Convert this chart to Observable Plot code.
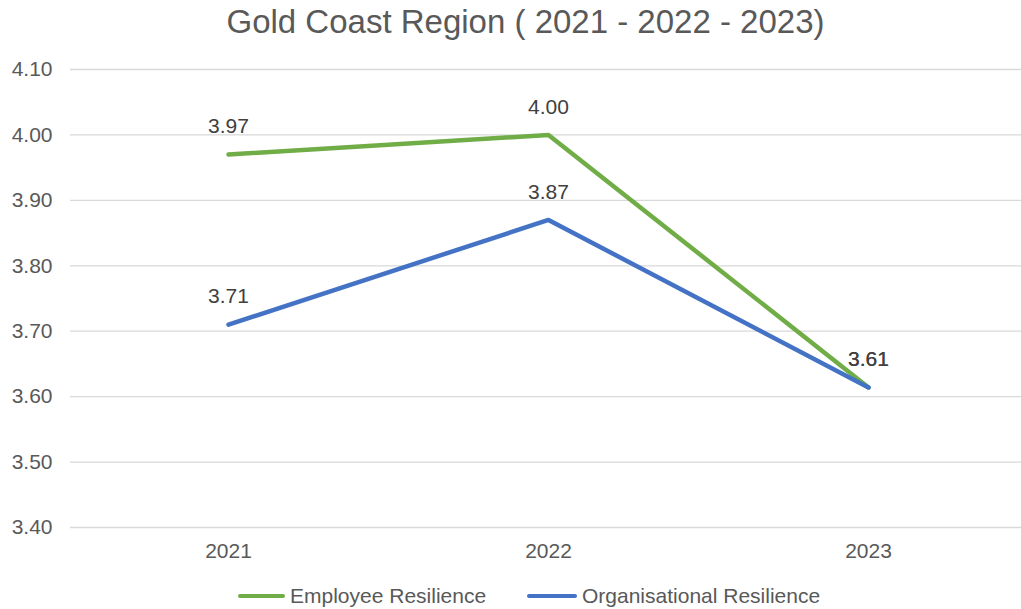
<!DOCTYPE html>
<html>
<head>
<meta charset="utf-8">
<script src="https://cdn.jsdelivr.net/npm/d3@7"></script>
<script src="https://cdn.jsdelivr.net/npm/@observablehq/plot@0.6"></script>
<style>
  html, body { margin: 0; padding: 0; background: #fff; }
  body { width: 1021px; height: 609px; overflow: hidden; font-family: "Liberation Sans", Arial, sans-serif; }
  #title { height: 44px; line-height: 44px; text-align: center; font-size: 33px; color: #595959; padding-left: 30px; }
  #chart svg { display: block; }
  #legend { position: relative; height: 45px; font-size: 21px; color: #595959; }
  .item { position: absolute; top: 20px; height: 24px; line-height: 24px; display: flex; align-items: center; }
  .sw { height: 4px; border-radius: 2px; margin-right: 5px; }
</style>
</head>
<body>
<div id="title"></div>
<div id="chart"></div>
<div id="legend"></div>
<script>
const titleText = "Gold Coast Region ( 2021 - 2022 - 2023)";
const years = ["2021", "2022", "2023"];
const seriesNames = ["Employee Resilience", "Organisational Resilience"];
const seriesColors = ["#70AD47", "#4472C4"];
const employeeValues = [3.97, 4.00, 3.614];
const organisationalValues = [3.71, 3.87, 3.614];
const yTicks = [3.4, 3.5, 3.6, 3.7, 3.8, 3.9, 4.0, 4.1];

document.getElementById("title").textContent = titleText;

const data = [];
years.forEach((yr, i) => data.push({year: yr, value: employeeValues[i], series: seriesNames[0]}));
years.forEach((yr, i) => data.push({year: yr, value: organisationalValues[i], series: seriesNames[1]}));

const fmt = d3.format(".2f");

const chart = Plot.plot({
  width: 1021,
  height: 520,
  marginTop: 25,
  marginBottom: 37,
  marginLeft: 70,
  marginRight: 0,
  style: {fontFamily: "'Liberation Sans', Arial, sans-serif", background: "#fff"},
  x: {type: "point", domain: years, range: [227, 868], padding: 0, label: null},
  y: {domain: [3.4, 4.1], label: null},
  color: {domain: seriesNames, range: seriesColors},
  marks: [
    Plot.ruleY(yTicks, {stroke: "#d9d9d9", strokeWidth: 1.3}),
    Plot.axisY({ticks: yTicks, tickSize: 0, tickPadding: 18, tickFormat: fmt, fontSize: 21, color: "#595959", label: null}),
    Plot.axisX({tickSize: 0, tickPadding: 16, fontSize: 21, color: "#595959", label: null}),
    Plot.line(data, {x: "year", y: "value", z: "series", stroke: "series", strokeWidth: 4.5, strokeLinecap: "round", strokeLinejoin: "round"}),
    Plot.text(data, {x: "year", y: "value", text: d => fmt(d.value), dy: -28, fontSize: 21, fill: "#404040"})
  ]
});
document.getElementById("chart").appendChild(chart);

const legend = document.getElementById("legend");
const legendPos = [[238, 47], [527, 50]];
seriesNames.forEach((name, i) => {
  const item = document.createElement("div");
  item.className = "item";
  item.style.left = legendPos[i][0] + "px";
  const sw = document.createElement("span");
  sw.className = "sw";
  sw.style.width = legendPos[i][1] + "px";
  sw.style.background = seriesColors[i];
  const label = document.createElement("span");
  label.textContent = name;
  item.appendChild(sw);
  item.appendChild(label);
  legend.appendChild(item);
});
</script>
</body>
</html>
